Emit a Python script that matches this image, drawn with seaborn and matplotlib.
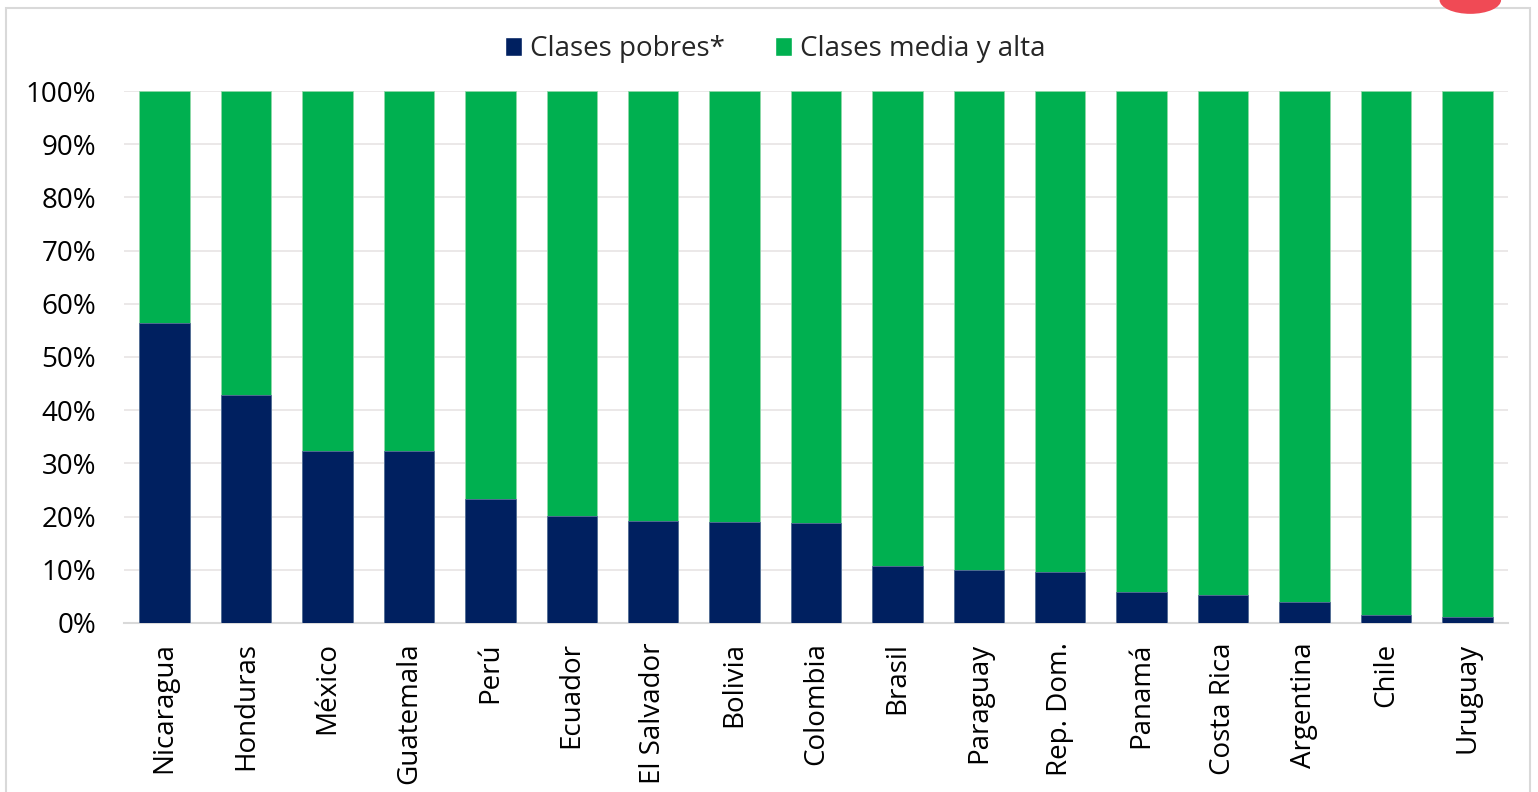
import matplotlib
matplotlib.use("Agg")
import matplotlib.pyplot as plt
from matplotlib.patches import Patch, Rectangle, Ellipse
from matplotlib.ticker import PercentFormatter
import seaborn as sns

# Data (%)
paises = ["Nicaragua", "Honduras", "México", "Guatemala", "Perú", "Ecuador",
          "El Salvador", "Bolivia", "Colombia", "Brasil", "Paraguay", "Rep. Dom.",
          "Panamá", "Costa Rica", "Argentina", "Chile", "Uruguay"]
pobres = [56.4, 42.9, 32.3, 32.3, 23.3, 20.1, 19.2, 19.0, 18.8, 10.7, 10.0, 9.6,
          5.8, 5.3, 3.9, 1.5, 1.1]
media_alta = [43.6, 57.1, 67.7, 67.7, 76.7, 79.9, 80.8, 81.0, 81.2, 89.3, 90.0, 90.4,
              94.2, 94.7, 96.1, 98.5, 98.9]
total = [p + m for p, m in zip(pobres, media_alta)]

navy = "#002060"
green = "#00B050"

sns.set_theme(style="white")
plt.rcParams["font.family"] = ["Open Sans", "DejaVu Sans"]

fig = plt.figure(figsize=(15.38, 7.92), dpi=100)
ax = fig.add_axes([0.0806, 0.2134, 0.8999, 0.6717])

# stacked bars: green (total) behind, navy (poor classes) in front
sns.barplot(x=paises, y=total, color=green, width=0.62, saturation=1, ax=ax,
            zorder=2, edgecolor="#8fd9a8", linewidth=0.6)
sns.barplot(x=paises, y=pobres, color=navy, width=0.62, saturation=1, ax=ax,
            zorder=3, edgecolor="#5a6f9a", linewidth=0.6)

ax.set_ylim(0, 100)
ax.set_xlim(-0.5, len(paises) - 0.5)
ax.set_yticks(range(0, 101, 10))
ax.yaxis.set_major_formatter(PercentFormatter(100, decimals=0))
ax.grid(axis="y", color="#e8e4e4", linewidth=1.2, zorder=0)
ax.set_axisbelow(True)
for s in ["top", "right", "left"]:
    ax.spines[s].set_visible(False)
ax.spines["bottom"].set_color("#d9d9d9")
ax.spines["bottom"].set_linewidth(1.5)
ax.tick_params(axis="both", length=0, labelsize=20, colors="black")
ax.tick_params(axis="y", pad=20)
ax.tick_params(axis="x", pad=14)
plt.setp(ax.get_xticklabels(), rotation=90)
ax.set_xlabel("")
ax.set_ylabel("")

handles = [Patch(facecolor=navy, label="Clases pobres*"),
           Patch(facecolor=green, label="Clases media y alta")]
fig.legend(handles=handles, loc="center", bbox_to_anchor=(0.504, 0.938), ncol=2,
           frameon=False, fontsize=20, handlelength=0.6, handleheight=0.7,
           handletextpad=0.3, columnspacing=1.8)

# chart-area frame and cut-off decoration at top right
fig.patches.append(Rectangle((0.004, -0.01), 0.991, 1.0, transform=fig.transFigure,
                             fill=False, edgecolor="#d9d9d9", linewidth=1.5))
fig.patches.append(Ellipse((0.956, 1.0), 0.04, 0.035, transform=fig.transFigure,
                           facecolor="#f04a55", edgecolor="none"))

fig.savefig("out.png", dpi=100)
